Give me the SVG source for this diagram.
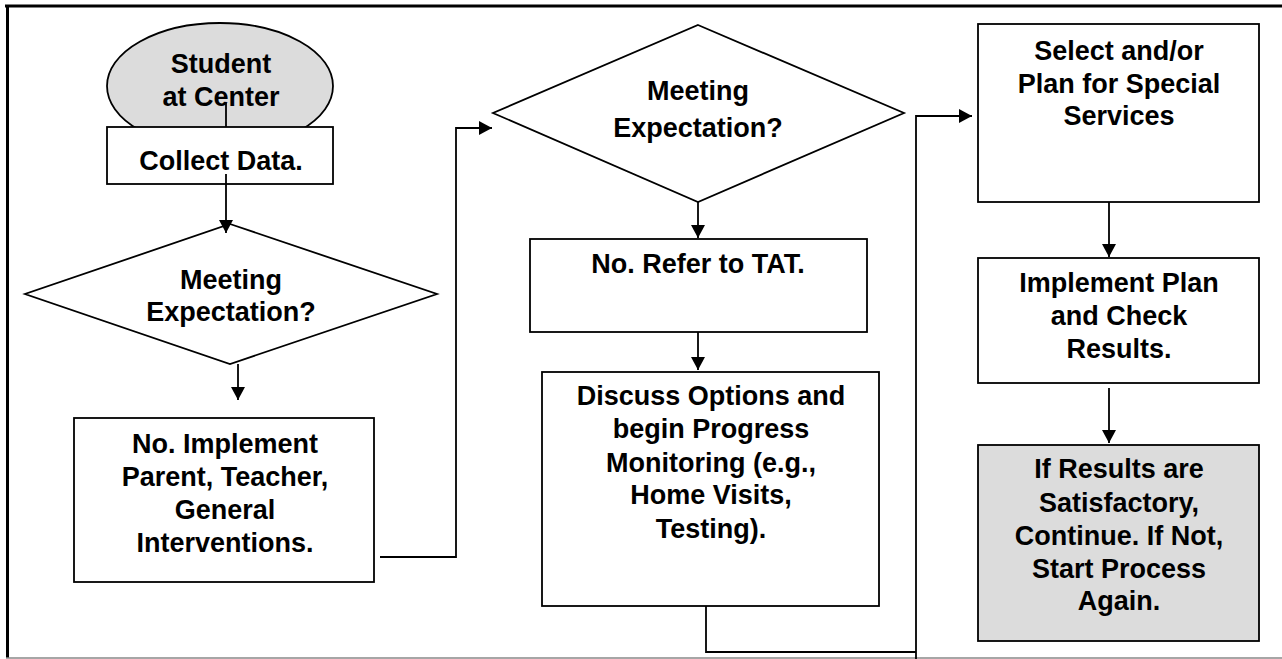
<svg xmlns="http://www.w3.org/2000/svg" width="1282" height="659" viewBox="0 0 1282 659">
  <style>
    .box { fill: #ffffff; stroke: #000000; stroke-width: 1.8; }
    .shade { fill: #dcdcdc; stroke: #000000; stroke-width: 1.8; }
    .lbl { font-family: "Liberation Sans", Arial, sans-serif; font-weight: bold; font-size: 27px; fill: #000000; text-anchor: middle; }
    .wire { fill: none; stroke: #000000; stroke-width: 1.8; }
  </style>
  <defs>
    <marker id="arrow" markerUnits="userSpaceOnUse" markerWidth="14" markerHeight="14" refX="13" refY="7" orient="auto">
      <path d="M0,0 L13,7 L0,14 Z" fill="#000000"/>
    </marker>
  </defs>

  <rect x="0" y="0" width="1282" height="659" fill="#ffffff"/>

  <!-- frame -->
  <g id="frame">
    <line x1="5" y1="6" x2="1282" y2="6" stroke="#000000" stroke-width="3"/>
    <line x1="7.5" y1="5" x2="7.5" y2="658" stroke="#000000" stroke-width="3"/>
    <line x1="6" y1="658" x2="1282" y2="658" stroke="#888888" stroke-width="1.5"/>
  </g>

  <!-- start -->
  <g id="student">
    <ellipse class="shade" cx="220" cy="86" rx="113" ry="63"/>
    <text class="lbl" x="221" y="73">Student</text>
    <text class="lbl" x="221" y="106">at Center</text>
  </g>

  <g id="connectors-top">
    <line class="wire" x1="226" y1="103" x2="226" y2="127"/>
  </g>

  <g id="collect">
    <rect class="box" x="107" y="127" width="226" height="57"/>
    <text class="lbl" x="221" y="170">Collect Data.</text>
  </g>

  <g id="decision1">
    <polygon class="box" points="230,224 437,294 230,364 25,294"/>
    <text class="lbl" x="231" y="289">Meeting</text>
    <text class="lbl" x="231" y="321">Expectation?</text>
  </g>

  <g id="interventions">
    <rect class="box" x="74" y="418" width="300" height="164"/>
    <text class="lbl" x="225" y="453">No. Implement</text>
    <text class="lbl" x="225" y="486">Parent, Teacher,</text>
    <text class="lbl" x="225" y="519">General</text>
    <text class="lbl" x="225" y="552">Interventions.</text>
  </g>

  <g id="decision2">
    <polygon class="box" points="698,25 904,113 698,202 493,113"/>
    <text class="lbl" x="698" y="100">Meeting</text>
    <text class="lbl" x="698" y="137">Expectation?</text>
  </g>

  <g id="refer">
    <rect class="box" x="530" y="239" width="337" height="93"/>
    <text class="lbl" x="698" y="273">No. Refer to TAT.</text>
  </g>

  <g id="discuss">
    <rect class="box" x="542" y="372" width="337" height="234"/>
    <text class="lbl" x="711" y="405">Discuss Options and</text>
    <text class="lbl" x="711" y="438">begin Progress</text>
    <text class="lbl" x="711" y="472">Monitoring (e.g.,</text>
    <text class="lbl" x="711" y="504">Home Visits,</text>
    <text class="lbl" x="711" y="538">Testing).</text>
  </g>

  <g id="select">
    <rect class="box" x="978" y="24" width="281" height="178"/>
    <text class="lbl" x="1119" y="60">Select and/or</text>
    <text class="lbl" x="1119" y="93">Plan for Special</text>
    <text class="lbl" x="1119" y="125">Services</text>
  </g>

  <g id="implement">
    <rect class="box" x="978" y="258" width="281" height="125"/>
    <text class="lbl" x="1119" y="292">Implement Plan</text>
    <text class="lbl" x="1119" y="325">and Check</text>
    <text class="lbl" x="1119" y="358">Results.</text>
  </g>

  <g id="results">
    <rect class="shade" x="978" y="445" width="281" height="196"/>
    <text class="lbl" x="1119" y="478">If Results are</text>
    <text class="lbl" x="1119" y="512">Satisfactory,</text>
    <text class="lbl" x="1119" y="545">Continue. If Not,</text>
    <text class="lbl" x="1119" y="578">Start Process</text>
    <text class="lbl" x="1119" y="610">Again.</text>
  </g>

  <!-- flow lines -->
  <g id="connectors">
    <line class="wire" x1="226" y1="174" x2="226" y2="233" marker-end="url(#arrow)"/>
    <line class="wire" x1="238" y1="364" x2="238" y2="400" marker-end="url(#arrow)"/>
    <polyline class="wire" points="380,557 456,557 456,128 492,128" marker-end="url(#arrow)"/>
    <line class="wire" x1="698" y1="202" x2="698" y2="238" marker-end="url(#arrow)"/>
    <line class="wire" x1="698" y1="332" x2="698" y2="370" marker-end="url(#arrow)"/>
    <polyline class="wire" points="706,606 706,652 916,652"/>
    <polyline class="wire" points="916,659 916,116 972,116" marker-end="url(#arrow)"/>
    <line class="wire" x1="1109" y1="202" x2="1109" y2="257" marker-end="url(#arrow)"/>
    <line class="wire" x1="1109" y1="388" x2="1109" y2="443" marker-end="url(#arrow)"/>
  </g>
</svg>
